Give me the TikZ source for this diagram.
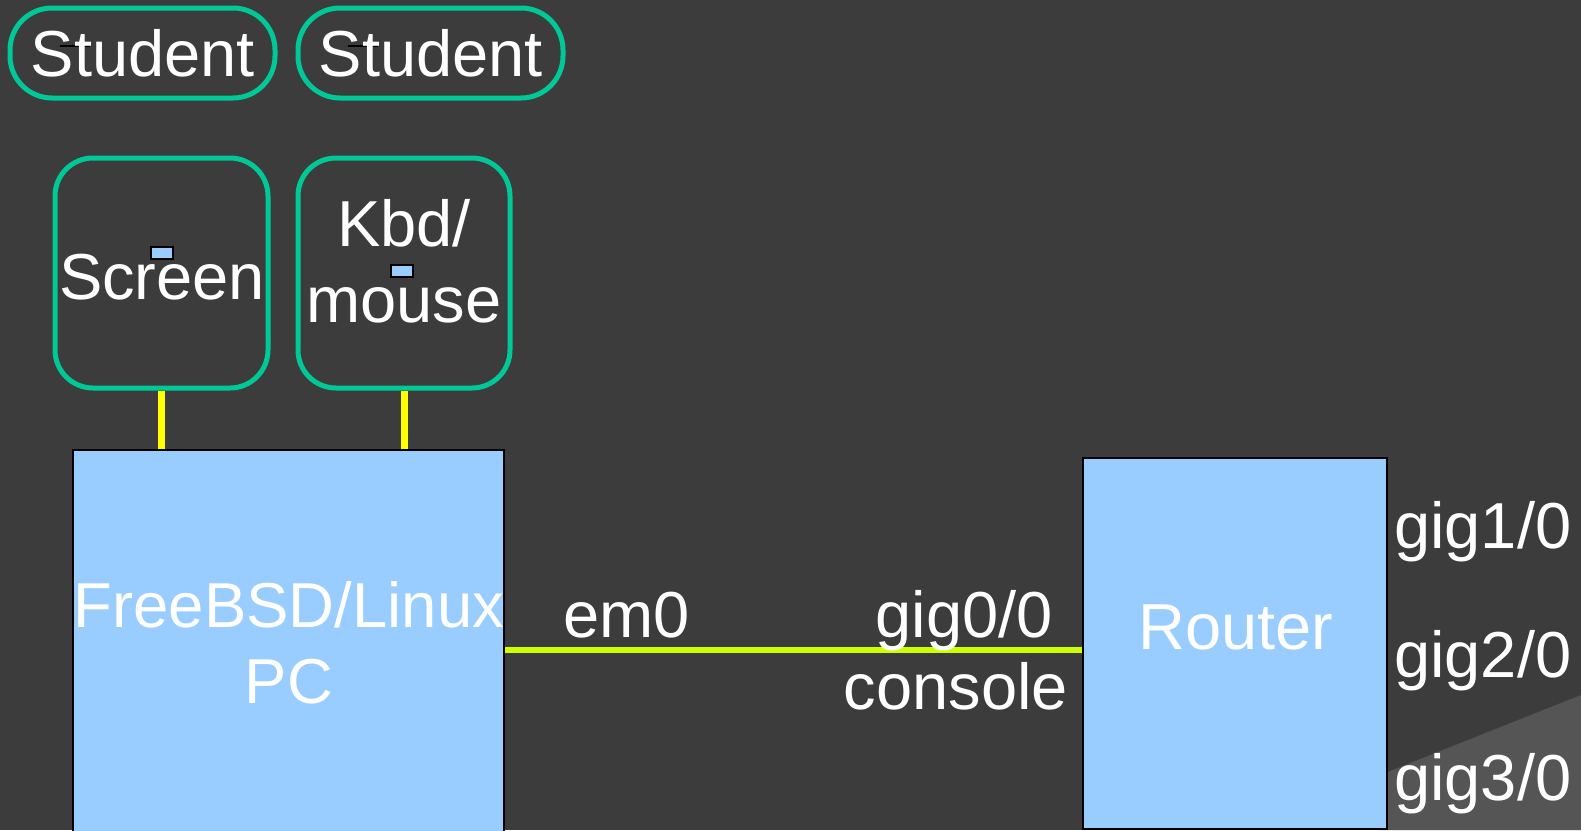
\documentclass[tikz,border=0pt]{standalone}
\usepackage{fontspec}
\setmainfont{Liberation Sans}
\definecolor{bg}{HTML}{3C3C3C}
\definecolor{lightgrey}{HTML}{555555}
\definecolor{teal}{HTML}{00C896}
\definecolor{skyb}{HTML}{99CCFF}
\definecolor{lime}{HTML}{CCFF00}
\definecolor{yel}{HTML}{FFFF00}
\tikzset{
  pill/.style={draw=teal, line width=5pt, rounded corners=42pt, minimum width=265pt, minimum height=90pt, inner sep=0pt},
  devbox/.style={draw=teal, line width=5pt, rounded corners=38pt, minimum height=230pt, inner sep=0pt},
  bluebox/.style={draw=black, fill=skyb, line width=1.5pt, inner sep=0pt},
  tiny/.style={draw=black, fill=skyb, line width=1.5pt, minimum width=22pt, minimum height=12pt, inner sep=0pt},
  lbl/.style={text=white, inner sep=0pt, font=\fontsize{65}{76}\selectfont},
  pclbl/.style={lbl, font=\fontsize{63.5}{76}\selectfont},
  yline/.style={draw=yel, line width=7pt},
  gline/.style={draw=lime, line width=6pt}
}
\begin{document}
\begin{tikzpicture}[x=1pt,y=-1pt]
\fill[bg] (0,0) rectangle (1581,830);
\useasboundingbox (0,0) rectangle (1581,830);
\fill[lightgrey] (1380,775) -- (1581,695) -- (1581,830) -- (1380,830) -- cycle;

% boxes
\node[pill] (stu1) at (142.5,53) {};
\node[pill] (stu2) at (430.5,53) {};
\node[devbox, minimum width=213pt] (scr) at (161.5,273) {};
\node[devbox, minimum width=212pt] (kbd) at (404,273) {};
\node[bluebox, minimum width=431pt, minimum height=385pt] (pc) at (288.5,642.5) {};
\node[bluebox, minimum width=304pt, minimum height=371pt] (router) at (1235,643.5) {};
\node[tiny] (sm1) at (162,253) {};
\node[tiny] (sm2) at (402,271) {};

% connectors
\draw[yline] (scr.south) -- (pc.north -| scr.south);
\draw[yline] (kbd.south) -- (pc.north -| kbd.south);
\path ([yshift=-7pt]pc.east) coordinate (g1);
\draw[gline] (g1) -- (g1 -| router.west);

% small artefact marks
\draw[black, line width=1.5pt] (60,46) -- (90,46);
\draw[black, line width=1.5pt] (348,46) -- (378,46);

% labels
\node[lbl, anchor=base] (t1) at (143,76) {Student};
\node[lbl, anchor=base] (t2) at (431,76) {Student};
\node[lbl, anchor=base] (t3) at (162,299) {Screen};
\node[lbl, anchor=base] (t4) at (404,246) {Kbd/};
\node[lbl, anchor=base] (t5) at (404,322) {mouse};
\node[pclbl, anchor=base] (t6) at (289,627) {FreeBSD/Linux};
\node[pclbl, anchor=base] (t7) at (289,703) {PC};
\node[lbl, anchor=base west] (t8) at (563,637) {em0};
\node[lbl, anchor=base east] (t9) at (1053,637) {gig0/0};
\node[lbl, anchor=base east] (t10) at (1068,709) {console};
\node[lbl, anchor=base] (t11) at (1236,649) {Router};
\node[lbl, anchor=base west] (t12) at (1394,548) {gig1/0};
\node[lbl, anchor=base west] (t13) at (1394,677) {gig2/0};
\node[lbl, anchor=base west] (t14) at (1394,800) {gig3/0};
\end{tikzpicture}
\end{document}
